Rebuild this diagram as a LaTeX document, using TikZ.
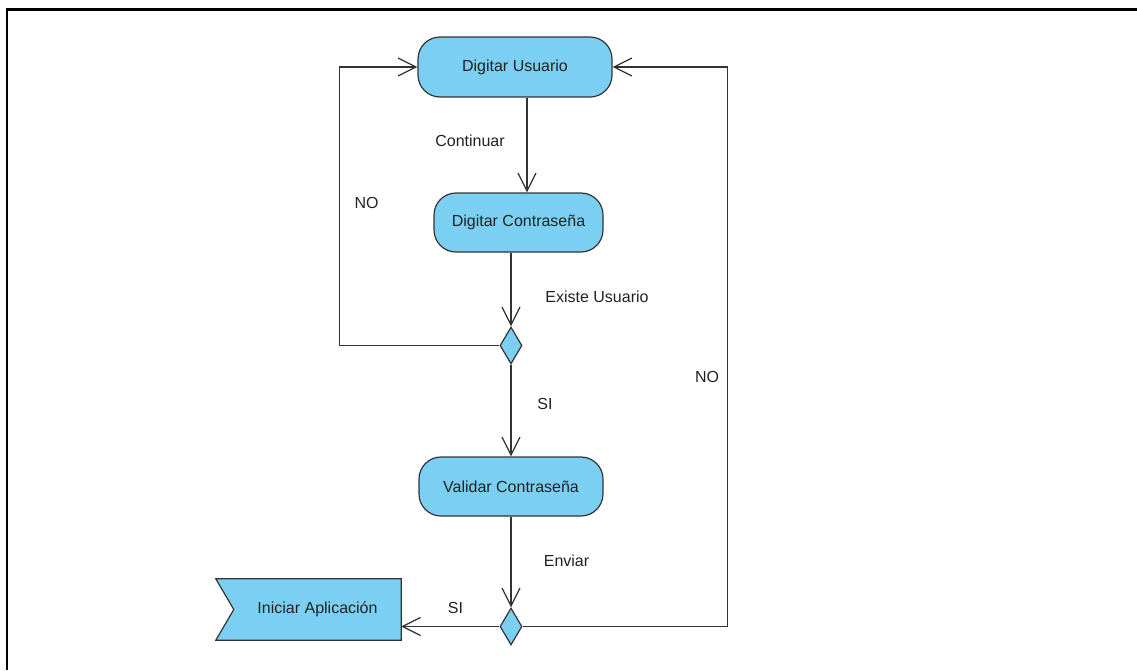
\documentclass[tikz,border=0pt]{standalone}
\usepackage{fontspec}
\setmainfont{Liberation Sans}
\usetikzlibrary{arrows.meta,shapes.geometric,backgrounds}
\definecolor{actfill}{HTML}{7BCFF3}
\definecolor{actline}{HTML}{333333}
\definecolor{txt}{HTML}{222222}
\begin{document}
\begin{tikzpicture}[x=1pt,y=-1pt,
  font=\fontsize{16}{19}\selectfont,
  action/.style={draw=actline,fill=actfill,line width=1.2pt,rounded corners=22pt,
    text=txt,inner sep=0pt},
  decision/.style={draw=actline,fill=actfill,line width=1.2pt,diamond,inner sep=0pt,
    minimum width=22pt,minimum height=37pt},
  flow/.style={draw=actline,line width=1.2pt,
    -{Straight Barb[length=18pt,width=18pt,line width=1.2pt]}},
  lbl/.style={text=txt,inner sep=0pt}]
\useasboundingbox (0,0) rectangle (1137,670);
% outer frame
\draw[line width=2.5pt] (7,670) -- (7,9.5) -- (1137,9.5);

% activities
\node[action,minimum width=194pt,minimum height=60pt] (usr) at (515,67) {Digitar Usuario};
\node[action,minimum width=169pt,minimum height=59pt] (con) at (518.5,222.5) {Digitar Contraseña};
\node[action,minimum width=184pt,minimum height=59pt] (val) at (511,486.5) {Validar Contraseña};
\node[decision] (d1) at (511,345.5) {};
\node[decision] (d2) at (511,626.5) {};

% accept-event action with a notched left side
\node[lbl,minimum width=167pt,minimum height=61pt] (ini) at (317.5,609.5) {Iniciar Aplicación};
\begin{scope}[on background layer]
\draw[actline,fill=actfill,line width=1.2pt] (ini.north east) -- (ini.south east)
  -- ([xshift=-18pt]ini.south west) -- (ini.west) -- ([xshift=-18pt]ini.north west) -- cycle;
\end{scope}

% flows
\draw[flow] ([xshift=12pt]usr.south) -- ([xshift=12pt]usr.south |- con.north);
\draw[flow] (d1 |- con.south) -- (d1.north);
\draw[flow] (d1.west) -- ++(-160,0) |- (usr.west);
\draw[flow] (d1.south) -- (d1 |- val.north);
\draw[flow] (d2 |- val.south) -- (d2.north);
\draw[flow] (d2.east) -- ++(205,0) |- (usr.east);
\draw[flow] (d2.west) -- (d2.west -| ini.east);

% guards
\node[lbl] at (470,141) {Continuar};
\node[lbl] at (366.5,203) {NO};
\node[lbl] at (597,296.5) {Existe Usuario};
\node[lbl] at (545,404) {SI};
\node[lbl] at (707,377) {NO};
\node[lbl] at (566.5,561) {Enviar};
\node[lbl] at (455.5,608) {SI};
\end{tikzpicture}
\end{document}
